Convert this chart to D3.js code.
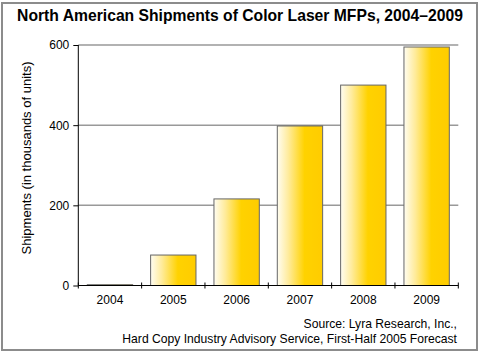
<!DOCTYPE html>
<html><head><meta charset="utf-8">
<script src="https://cdn.jsdelivr.net/npm/d3@7"></script>
<style>body{margin:0;background:#fff}svg{display:block}text{font-family:"Liberation Sans",Arial,sans-serif}</style>
</head><body>
<script>
const years = ["2004","2005","2006","2007","2008","2009"];
const shipments = [2, 76, 216, 398, 500, 595];
const yTicks = [0, 200, 400, 600];
const title = "North American Shipments of Color Laser MFPs, 2004\u20132009";
const yTitle = "Shipments (in thousands of units)";
const sourceLines = ["Source: Lyra Research, Inc.,", "Hard Copy Industry Advisory Service, First-Half 2005 Forecast"];

const W = 481, H = 357;
const svg = d3.select("body").append("svg").attr("width", W).attr("height", H);

const defs = svg.append("defs");
const g = defs.append("linearGradient").attr("id","gold").attr("x1","0").attr("x2","1").attr("y1","0").attr("y2","0");
g.append("stop").attr("offset","0%").attr("stop-color","#fffdf2");
g.append("stop").attr("offset","25%").attr("stop-color","#ffeb9a");
g.append("stop").attr("offset","60%").attr("stop-color","#ffd200");
g.append("stop").attr("offset","100%").attr("stop-color","#ffcc00");

// frame
svg.append("rect").attr("x",2).attr("y",3).attr("width",475).attr("height",347)
  .attr("fill","none").attr("stroke","#8c8c8c").attr("stroke-width",2);

svg.append("text").attr("x",240).attr("y",21).attr("text-anchor","middle")
  .attr("font-size",15.7).attr("font-weight","bold").attr("fill","#000").text(title);

const pL = 78.3, pR = 458.3, pT = 45, pB = 285.5;
const x = d3.scaleBand().domain(years).range([pL, pR]).paddingInner(0.284).paddingOuter(0.142);
const y = d3.scaleLinear().domain([0, 600]).range([pB, pT]);

// gridlines
svg.append("g").selectAll("line").data(yTicks.filter(d => d > 0)).join("line")
  .attr("x1", pL).attr("x2", pR).attr("y1", d => y(d)).attr("y2", d => y(d))
  .attr("stroke","#999").attr("stroke-width",1.5);

// bars
svg.append("g").selectAll("rect").data(years).join("rect")
  .attr("x", d => x(d)).attr("width", x.bandwidth())
  .attr("y", (d,i) => y(shipments[i])).attr("height", (d,i) => pB - y(shipments[i]))
  .attr("fill","url(#gold)").attr("stroke","#666").attr("stroke-width",1);

// y axis
const yAxis = svg.append("g").attr("transform",`translate(${pL},0)`)
  .call(d3.axisLeft(y).tickValues(yTicks).tickSize(5).tickPadding(4));
yAxis.select(".domain").attr("d", `M0,${pT}V${pB}`).attr("stroke","#000");
yAxis.selectAll("text").attr("font-size",12).attr("fill","#000").attr("font-family",'"Liberation Sans",Arial,sans-serif');
yAxis.selectAll(".tick line").attr("stroke","#000");

// x axis with ticks at band boundaries
svg.append("line").attr("x1",pL).attr("x2",pR).attr("y1",pB).attr("y2",pB).attr("stroke","#000");
const edges = years.map(d => x(d) - x.step()*x.paddingInner()/2).concat([pR]);
svg.append("g").selectAll("line").data(edges).join("line")
  .attr("x1", d => d).attr("x2", d => d).attr("y1", pB - 3).attr("y2", pB + 3).attr("stroke","#000");
svg.append("g").selectAll("text").data(years).join("text")
  .attr("x", d => x(d) + x.bandwidth()/2).attr("y", 304).attr("text-anchor","middle")
  .attr("font-size",12).attr("fill","#000").text(d => d);

svg.append("text").attr("transform","translate(31,158) rotate(-90)").attr("text-anchor","middle")
  .attr("font-size",13).attr("fill","#000").text(yTitle);

svg.append("g").selectAll("text").data(sourceLines).join("text")
  .attr("x",457).attr("y",(d,i) => 328 + i*15).attr("text-anchor","end")
  .attr("font-size",12.15).attr("fill","#000").text(d => d);
</script>
</body></html>
